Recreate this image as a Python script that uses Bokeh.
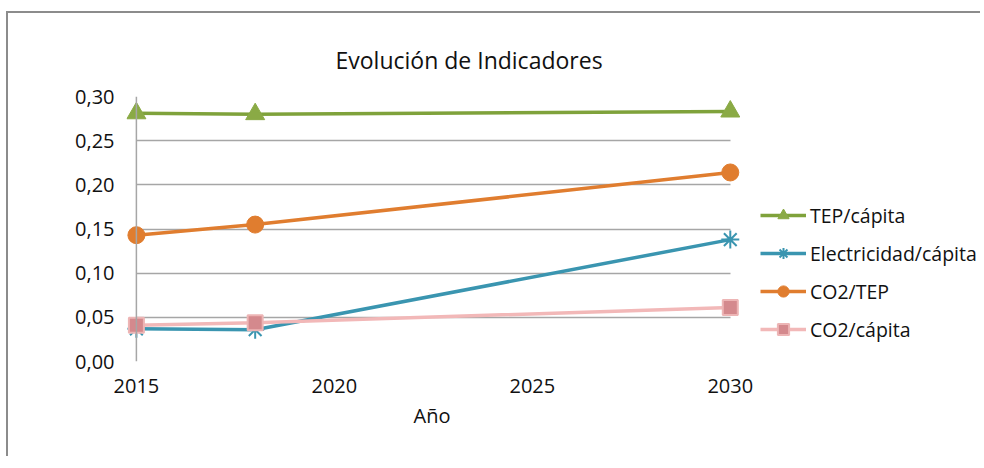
from bokeh.plotting import figure
from bokeh.models import (FixedTicker, CustomJSTickFormatter, Span, Legend,
                          LegendItem, Range1d, Title)
from bokeh.embed import file_html
from bokeh.resources import INLINE

# ---- data ----
years = [2015, 2018, 2030]
tep_capita = [0.281, 0.280, 0.283]
elec_capita = [0.037, 0.036, 0.138]
co2_tep = [0.143, 0.155, 0.214]
co2_capita = [0.041, 0.044, 0.061]
labels = ["TEP/cápita", "Electricidad/cápita", "CO2/TEP", "CO2/cápita"]
x_ticks = [2015, 2020, 2025, 2030]
y_ticks = [0.0, 0.05, 0.10, 0.15, 0.20, 0.25, 0.30]
x_title = "Año"

FONT = "Open Sans"
TXT = "#111111"
GRID = "#a6a6a6"

# the frame also holds the legend area on the right; axis and grid are bounded
p = figure(width=974, height=445, output_backend="svg", toolbar_location=None,
           x_range=Range1d(2014.75, 2036.37), y_range=Range1d(0, 0.30),
           min_border_left=118, min_border_right=0,
           min_border_top=83, min_border_bottom=97,
           title="Evolución de Indicadores")
p.styles = {"border-top": "2px solid #8c8c8c", "border-left": "2px solid #8c8c8c",
            "margin-top": "11px", "margin-left": "6px"}
p.outline_line_color = None
p.background_fill_color = "white"

p.title.text_font = FONT
p.title.text_font_size = "23px"
p.title.text_font_style = "normal"
p.title.text_color = TXT
p.title.align = "left"
p.title.offset = 209
p.title.standoff = 41

# grid
p.xgrid.visible = False
p.ygrid.ticker = FixedTicker(ticks=y_ticks)
p.ygrid.grid_line_color = GRID
p.ygrid.grid_line_width = 1.5
p.ygrid.cross_bounds = (x_ticks[0], x_ticks[-1])

p.add_layout(Span(location=x_ticks[0], dimension="height", line_color=GRID,
                  line_width=1.5))

# axes
p.xaxis.ticker = FixedTicker(ticks=x_ticks)
p.xaxis.bounds = (x_ticks[0], x_ticks[-1])
p.xaxis.axis_line_color = None
p.xaxis.major_tick_line_color = None
p.xaxis.minor_tick_line_color = None
p.xaxis.major_tick_out = 0
p.xaxis.major_label_standoff = 17

p.yaxis.ticker = FixedTicker(ticks=y_ticks)
p.yaxis.formatter = CustomJSTickFormatter(code="return tick.toFixed(2).replace('.', ',');")
p.yaxis.axis_line_color = None
p.yaxis.major_tick_line_color = None
p.yaxis.minor_tick_line_color = None
p.yaxis.major_tick_out = 0
p.yaxis.major_label_standoff = 12

for ax in (p.xaxis, p.yaxis):
    ax.major_label_text_font = FONT
    ax.major_label_text_font_size = "20px"
    ax.major_label_text_color = TXT

# x axis title, centred under the bounded axis
p.add_layout(Title(text=x_title, align="left", offset=287, standoff=8,
                   text_font=FONT, text_font_size="20px", text_font_style="normal",
                   text_color=TXT), "below")

# series
l1 = p.line(years, tep_capita, line_color="#7FA23B", line_width=3.5)
m1 = p.scatter(years, tep_capita, marker="triangle", size=19,
               fill_color="#8AAA45", line_color="#8AAA45")

l2 = p.line(years, elec_capita, line_color="#3A95B0", line_width=3.5)
m2 = p.scatter(years, elec_capita, marker="asterisk", size=18,
               line_color="#3A95B0", line_width=2)

l3 = p.line(years, co2_tep, line_color="#E07D2F", line_width=3.5)
m3 = p.scatter(years, co2_tep, marker="circle", size=17,
               fill_color="#E07D2F", line_color="#E07D2F")

l4 = p.line(years, co2_capita, line_color="#F2B8B8", line_width=3.5)
m4 = p.scatter(years, co2_capita, marker="square", size=15,
               fill_color="#D4898D", line_color="#EDB5B5", line_width=2)

legend = Legend(items=[
    LegendItem(label=labels[0], renderers=[l1, m1]),
    LegendItem(label=labels[1], renderers=[l2, m2]),
    LegendItem(label=labels[2], renderers=[l3, m3]),
    LegendItem(label=labels[3], renderers=[l4, m4]),
], location=(634, 18), glyph_width=46, glyph_height=28, label_height=28,
    spacing=10, label_standoff=4, padding=0, margin=0,
    border_line_color=None, background_fill_alpha=0,
    label_text_font=FONT, label_text_font_size="19.5px", label_text_color=TXT)
p.add_layout(legend)

open("out.html", "w").write(file_html(p, INLINE))
